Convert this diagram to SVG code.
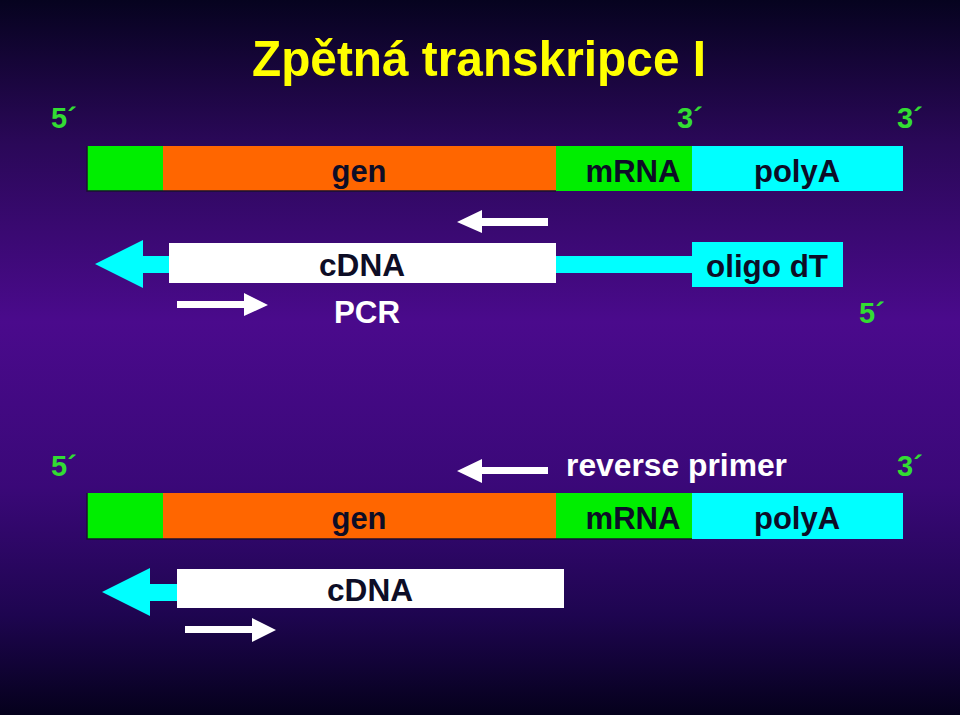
<svg xmlns="http://www.w3.org/2000/svg" width="960" height="715" viewBox="0 0 960 715">
<defs>
<linearGradient id="bg" x1="0" y1="0" x2="0" y2="1">
<stop offset="0" stop-color="#06031f"/>
<stop offset="0.2" stop-color="#2a0858"/>
<stop offset="0.45" stop-color="#4a0a8c"/>
<stop offset="0.68" stop-color="#3a0878"/>
<stop offset="0.86" stop-color="#1e0550"/>
<stop offset="1" stop-color="#05011c"/>
</linearGradient>
</defs>
<style>
text{font-family:"Liberation Sans",Arial,sans-serif;font-weight:bold}
.lab{font-size:32px;fill:#0d0d26;text-anchor:middle}
.wl{font-size:32px;fill:#ffffff}
.end{font-size:29px;fill:#33dd33}
.title{font-size:50px;fill:#ffff00}
.edge{fill:none;stroke:#1a1030;stroke-width:1.5}
</style>
<rect x="0" y="0" width="960" height="715" fill="url(#bg)"/>
<text class="title" x="252" y="76" textLength="454" lengthAdjust="spacingAndGlyphs">Zpětná transkripce I</text>

<g id="top-labels">
<text class="end" x="51" y="128">5´</text>
<text class="end" x="677" y="128">3´</text>
<text class="end" x="897" y="128">3´</text>
</g>

<g id="top-bar">
<rect x="87" y="146" width="76" height="45" fill="#00ee00"/>
<rect x="163" y="146" width="393" height="45" fill="#ff6600"/>
<rect x="556" y="146" width="136" height="45" fill="#00ee00"/>
<rect x="692" y="146" width="211" height="45" fill="#00ffff"/>
<path class="edge" d="M87,146 V191 H556"/>
<text class="lab" x="359" y="182" textLength="55" lengthAdjust="spacingAndGlyphs">gen</text>
<text class="lab" x="633" y="182" textLength="95" lengthAdjust="spacingAndGlyphs">mRNA</text>
<text class="lab" x="797" y="182" textLength="86" lengthAdjust="spacingAndGlyphs">polyA</text>
</g>

<g id="connectors">
<polygon id="primer-top" fill="#ffffff" points="457,222 482,210 482,218 548,218 548,226 482,226 482,233"/>
<polygon id="cyan-arrow-top" fill="#00ffff" points="95,264 143,240 143,256 170,256 170,273 143,273 143,288"/>
<rect id="cyan-link" x="556" y="256" width="137" height="17" fill="#00ffff"/>
<polygon id="pcr-arrow-top" fill="#ffffff" points="177,301 244,301 244,293 268,305 244,316 244,308 177,308"/>
<polygon id="primer-bottom" fill="#ffffff" points="457,471 482,459 482,467 548,467 548,474 482,474 482,483"/>
<polygon id="cyan-arrow-bottom" fill="#00ffff" points="102,592 150,568 150,584 178,584 178,601 150,601 150,616"/>
<polygon id="pcr-arrow-bottom" fill="#ffffff" points="185,626 252,626 252,618 276,630 252,642 252,633 185,633"/>
</g>

<g id="cdna-top">
<rect x="169" y="243" width="387" height="40" fill="#ffffff"/>
<text class="lab" x="362" y="276" textLength="86" lengthAdjust="spacingAndGlyphs">cDNA</text>
</g>

<g id="oligo-dt">
<rect x="692" y="242" width="151" height="45" fill="#00ffff"/>
<text class="lab" x="767" y="277" textLength="122" lengthAdjust="spacingAndGlyphs">oligo dT</text>
</g>

<g id="pcr-label">
<text class="wl" x="334" y="323" textLength="66" lengthAdjust="spacingAndGlyphs">PCR</text>
</g>
<text class="end" x="859" y="323">5´</text>

<g id="bottom-labels">
<text class="end" x="51" y="476">5´</text>
<text class="wl" x="566" y="476" textLength="221" lengthAdjust="spacingAndGlyphs">reverse primer</text>
<text class="end" x="897" y="476">3´</text>
</g>

<g id="bottom-bar">
<rect x="87" y="493" width="76" height="46" fill="#00ee00"/>
<rect x="163" y="493" width="393" height="46" fill="#ff6600"/>
<rect x="556" y="493" width="136" height="46" fill="#00ee00"/>
<rect x="692" y="493" width="211" height="46" fill="#00ffff"/>
<path class="edge" d="M87,493 V539 H692"/>
<text class="lab" x="359" y="529" textLength="55" lengthAdjust="spacingAndGlyphs">gen</text>
<text class="lab" x="633" y="529" textLength="95" lengthAdjust="spacingAndGlyphs">mRNA</text>
<text class="lab" x="797" y="529" textLength="86" lengthAdjust="spacingAndGlyphs">polyA</text>
</g>

<g id="cdna-bottom">
<rect x="177" y="569" width="387" height="39" fill="#ffffff"/>
<text class="lab" x="370" y="601" textLength="86" lengthAdjust="spacingAndGlyphs">cDNA</text>
</g>
</svg>
